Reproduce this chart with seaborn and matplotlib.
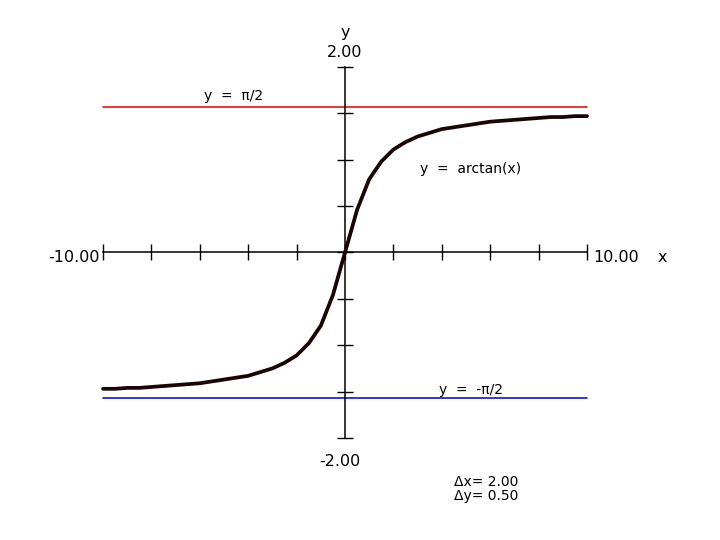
import numpy as np
import pandas as pd
import matplotlib
matplotlib.use("Agg")
import matplotlib.pyplot as plt
import seaborn as sns

# values
x_vals = [-10, -9.5, -9, -8.5, -8, -7.5, -7, -6.5, -6, -5.5, -5, -4.5, -4, -3.5,
          -3, -2.5, -2, -1.5, -1, -0.5, 0, 0.5, 1, 1.5, 2, 2.5, 3, 3.5, 4, 4.5,
          5, 5.5, 6, 6.5, 7, 7.5, 8, 8.5, 9, 9.5, 10]
y_vals = [-1.47, -1.47, -1.46, -1.46, -1.45, -1.44, -1.43, -1.42, -1.41, -1.39,
          -1.37, -1.35, -1.33, -1.29, -1.25, -1.19, -1.11, -0.98, -0.79, -0.46,
          0.00, 0.46, 0.79, 0.98, 1.11, 1.19, 1.25, 1.29, 1.33, 1.35, 1.37,
          1.39, 1.41, 1.42, 1.43, 1.44, 1.45, 1.46, 1.46, 1.47, 1.47]
asym_upper = 1.5708
asym_lower = -1.5708
x_ticks = [-10, -8, -6, -4, -2, 0, 2, 4, 6, 8, 10]
y_ticks = [-2, -1.5, -1, -0.5, 0, 0.5, 1, 1.5, 2]

df = pd.DataFrame({"x": x_vals, "y": y_vals})

sns.set_style("white")
plt.rcParams["font.family"] = ["DejaVu Sans"]
plt.rcParams["text.color"] = "black"

fig = plt.figure(figsize=(7.2, 5.4), dpi=100)
ax = fig.add_axes([0, 0, 1, 1])
ax.set_xlim(-14.256, 15.496)
ax.set_ylim(-3.100, 2.722)

# asymptotes
ax.plot([-10, 10], [asym_upper, asym_upper], color="#e8140e", lw=1.2, zorder=2)
ax.plot([-10, 10], [asym_lower, asym_lower], color="#1010d8", lw=1.2, zorder=2)

# axes through origin
for side in ["top", "right"]:
    ax.spines[side].set_visible(False)
ax.spines["left"].set_position(("data", 0))
ax.spines["bottom"].set_position(("data", 0))
ax.spines["left"].set_bounds(-2, 2)
ax.spines["bottom"].set_bounds(-10, 10)
for s in ["left", "bottom"]:
    ax.spines[s].set_color("black")
    ax.spines[s].set_linewidth(1.1)
ax.set_xticks(x_ticks)
ax.set_yticks(y_ticks)
ax.tick_params(axis="both", direction="inout", length=11, width=1.0,
               color="black", bottom=True, left=True,
               labelbottom=False, labelleft=False)

sns.lineplot(data=df, x="x", y="y", ax=ax, color="#1a0505", lw=2.7,
             zorder=3, sort=False)
ax.set_xlabel("")
ax.set_ylabel("")

fs = 10
nfs = 11.5
ax.text(-10.15, -0.05, "-10.00", ha="right", va="center", fontsize=nfs)
ax.text(10.25, -0.05, "10.00", ha="left", va="center", fontsize=nfs)
ax.text(12.9, -0.05, "x", ha="left", va="center", fontsize=nfs)
ax.text(0, 2.08, "2.00", ha="center", va="bottom", fontsize=nfs)
ax.text(0, 2.29, "y", ha="center", va="bottom", fontsize=nfs)
ax.text(-0.2, -2.17, "-2.00", ha="center", va="top", fontsize=nfs)
ax.text(-4.6, 1.61, "y  =  \u03c0/2", ha="center", va="bottom", fontsize=fs)
ax.text(3.1, 0.90, "y  =  arctan(x)", ha="left", va="center", fontsize=fs)
ax.text(3.9, -1.555, "y  =  -\u03c0/2", ha="left", va="bottom", fontsize=fs)
ax.text(4.5, -2.47, "\u0394x= 2.00", ha="left", va="center", fontsize=fs)
ax.text(4.5, -2.63, "\u0394y= 0.50", ha="left", va="center", fontsize=fs)

fig.savefig("out.png", dpi=100)
